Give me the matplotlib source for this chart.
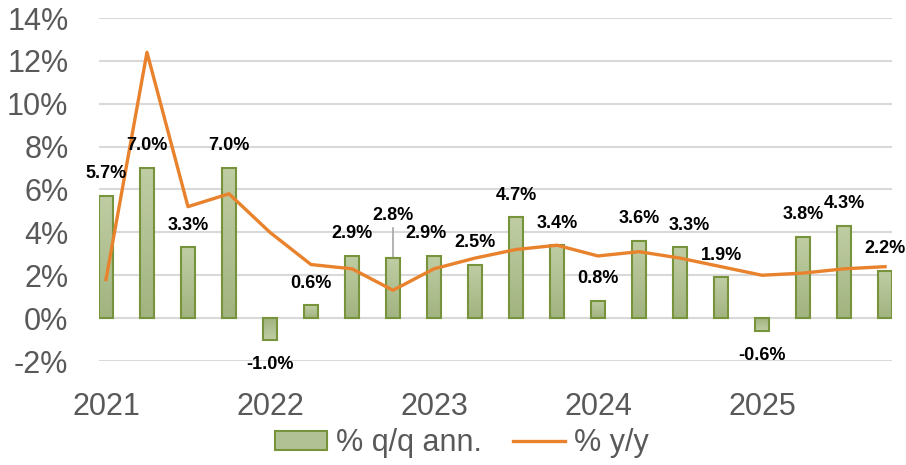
#%% IMPORT

import numpy as np
import matplotlib.pyplot as plt
from matplotlib.colors import LinearSegmentedColormap
from matplotlib.patches import Patch
from matplotlib.lines import Line2D

#%% DADOS

quarters = np.arange(20)
years = ['2021', '2022', '2023', '2024', '2025']
qq_ann = [5.7, 7.0, 3.3, 7.0, -1.0, 0.6, 2.9, 2.8, 2.9, 2.5,
          4.7, 3.4, 0.8, 3.6, 3.3, 1.9, -0.6, 3.8, 4.3, 2.2]
yy = [1.8, 12.4, 5.2, 5.8, 4.0, 2.5, 2.3, 1.3, 2.3, 2.8,
      3.2, 3.4, 2.9, 3.1, 2.8, 2.4, 2.0, 2.1, 2.3, 2.4]

#%% ESTILO

plt.rcParams['font.family'] = ['Liberation Sans', 'DejaVu Sans']
cinza = '#595959'
verde_borda = '#77933C'
laranja = '#E8822C'
largura = 0.34

# deslocamento dos rótulos (pontos), ajustes manuais
desloc = {7: (0, 31), 8: (-6, 16), 14: (7, 16)}

fig = plt.figure(figsize=(9.06, 4.65), dpi=100)
ax = fig.add_axes([99/906, 1 - 361/465, (892 - 99)/906, (361 - 18)/465])

barras = ax.bar(quarters, qq_ann, width=largura, color='none',
                edgecolor=verde_borda, linewidth=1.5, zorder=4)

# gradiente nas barras
grad = LinearSegmentedColormap.from_list('g', ['#a2b480', '#c0cda4'])
for b in barras:
    x0, y0 = b.get_x(), b.get_y()
    w, h = b.get_width(), b.get_height()
    img = np.linspace(0, 1, 50).reshape(-1, 1)
    if h < 0:
        img = img[::-1]
    im = ax.imshow(img, cmap=grad, aspect='auto', origin='lower',
                   extent=(x0, x0 + w, min(y0, y0 + h), max(y0, y0 + h)),
                   zorder=3.5)
    im.set_clip_path(b)

ax.plot(quarters, yy, color=laranja, linewidth=2.4, zorder=5)

# rótulos
for i, v in enumerate(qq_ann):
    dx, dy = desloc.get(i, (0, 16))
    if v < 0:
        dy = -18
    ax.annotate(f'{v:.1f}%', (i, v), xytext=(dx, dy), textcoords='offset points',
                ha='center', va='center', fontsize=13, fontweight='bold',
                color='black', zorder=6)

# linha guia do 2.8%
ax.plot([7, 7], [qq_ann[7], qq_ann[7] + 1.4], color='#a6a6a6', linewidth=1.2, zorder=2)

ax.set_ylim(-2, 14)
ax.set_xlim(-largura/2, 19 + largura/2)
ax.set_yticks(np.arange(-2, 15, 2))
ax.set_yticklabels([f'{t}%' for t in range(-2, 15, 2)])
ax.set_xticks(quarters[::4])
ax.set_xticklabels(years)
ax.tick_params(axis='both', length=0, labelsize=22, colors=cinza)
ax.tick_params(axis='y', pad=22)
ax.tick_params(axis='x', pad=22)
ax.grid(axis='y', color='#d9d9d9', linewidth=1.5, zorder=0)
for s in ax.spines.values():
    s.set_visible(False)

handles = [Patch(facecolor='#b2c193', edgecolor=verde_borda, linewidth=1.5),
           Line2D([], [], color=laranja, linewidth=2.4)]
fig.legend(handles, ['% q/q ann.', '% y/y'], loc='center',
           bbox_to_anchor=(0.51, 1 - 443/465), ncol=2,
           frameon=False, fontsize=22, labelcolor=cinza,
           handlelength=1.7, handleheight=0.6, columnspacing=1.0,
           handletextpad=0.3)

plt.savefig('out.png', dpi=100)
